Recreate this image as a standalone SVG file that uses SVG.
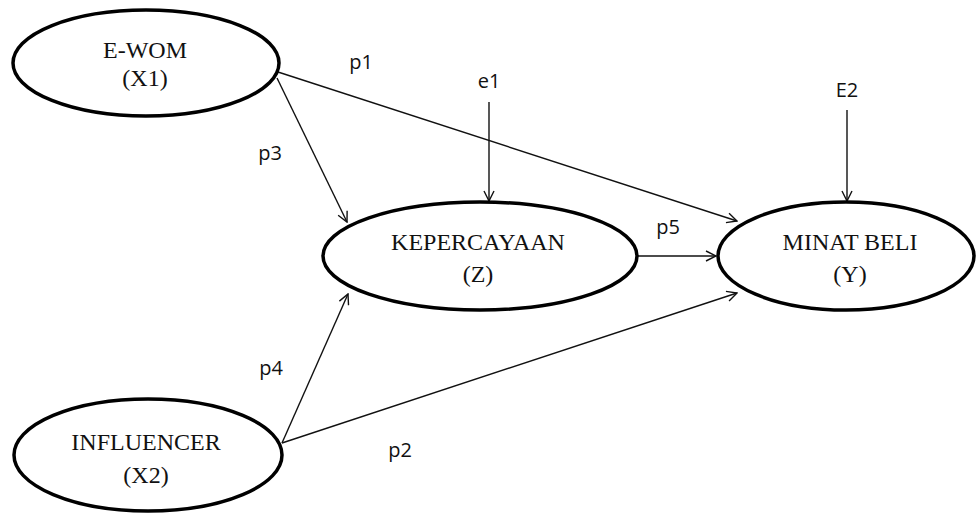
<svg xmlns="http://www.w3.org/2000/svg" width="976" height="514" viewBox="0 0 976 514">
<style>
.node ellipse{fill:#fff;stroke:#000;stroke-width:3.5}
.nt{font-family:"Liberation Serif","Times New Roman",serif;font-size:24px;fill:#111;text-anchor:middle}
.lbl{font-family:"Open Sans","Liberation Sans",sans-serif;font-size:20px;fill:#111;text-anchor:middle}
.conn line{stroke:#111;stroke-width:1.4;fill:none;marker-end:url(#arr)}
</style>
<defs>
<marker id="arr" markerUnits="userSpaceOnUse" viewBox="0 0 12 12" refX="11" refY="6" markerWidth="12" markerHeight="12" orient="auto">
<path d="M1,1 L11,6 L1,11" fill="none" stroke="#111" stroke-width="1.4"/>
</marker>
</defs>
<rect width="976" height="514" fill="#fff"/>
<g id="connectors" class="conn">
<line x1="278" y1="72" x2="737" y2="221"/>
<line x1="277" y1="78" x2="347" y2="222"/>
<line x1="489" y1="102" x2="489" y2="201"/>
<line x1="847" y1="110" x2="847" y2="201"/>
<line x1="638" y1="256" x2="716" y2="256"/>
<line x1="282" y1="443" x2="348" y2="294"/>
<line x1="282" y1="443" x2="737" y2="293"/>
</g>
<g id="labels">
<text class="lbl" x="361" y="69">p1</text>
<text class="lbl" x="489" y="88">e1</text>
<text class="lbl" x="847" y="97">E2</text>
<text class="lbl" x="270" y="160">p3</text>
<text class="lbl" x="668" y="234">p5</text>
<text class="lbl" x="271" y="375">p4</text>
<text class="lbl" x="400" y="457">p2</text>
</g>
<g id="ewom" class="node">
<ellipse cx="146" cy="63" rx="133" ry="53"/>
<text class="nt" x="145" y="58">E-WOM</text>
<text class="nt" x="145" y="86">(X1)</text>
</g>
<g id="influencer" class="node">
<ellipse cx="148" cy="455" rx="134" ry="56"/>
<text class="nt" x="146" y="450">INFLUENCER</text>
<text class="nt" x="146" y="483">(X2)</text>
</g>
<g id="kepercayaan" class="node">
<ellipse cx="480" cy="256" rx="157" ry="54"/>
<text class="nt" x="478" y="250">KEPERCAYAAN</text>
<text class="nt" x="478" y="282">(Z)</text>
</g>
<g id="minatbeli" class="node">
<ellipse cx="846" cy="256" rx="128" ry="54"/>
<text class="nt" x="850" y="250">MINAT BELI</text>
<text class="nt" x="850" y="282">(Y)</text>
</g>
</svg>
